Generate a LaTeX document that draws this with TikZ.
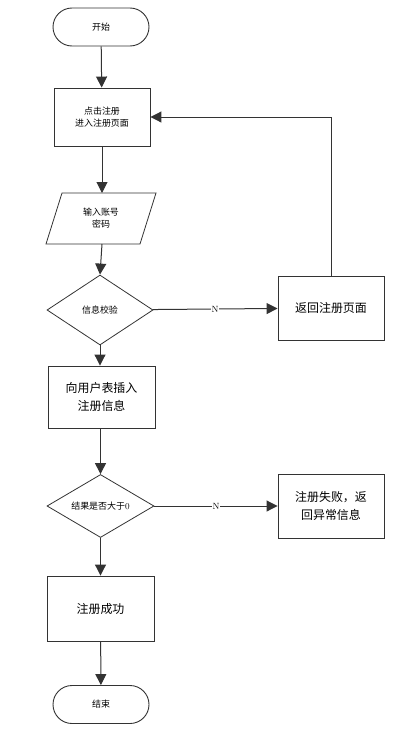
\documentclass[tikz,border=0pt]{standalone}
\usepackage{fontspec}
\newfontfamily\cjk{Noto Sans CJK SC}
\usetikzlibrary{shapes.geometric,arrows.meta}
\definecolor{edge}{HTML}{333333}
\begin{document}
\begin{tikzpicture}[x=1bp,y=-1bp,
  small/.style={font=\cjk\fontsize{9}{12}\selectfont},
  big/.style={font=\cjk\fontsize{12}{18}\selectfont},
  term/.style={draw=edge,line width=0.9bp,rounded corners=19bp,minimum width=96bp,minimum height=38bp,small},
  proc/.style={draw=edge,line width=0.9bp,minimum width=106bp,minimum height=64bp,align=center,inner sep=0pt},
  dec/.style={draw=edge,line width=0.8bp,diamond,aspect=1.5,inner sep=0pt,small},
  arr/.style={draw=edge,line width=1bp,-{Triangle[length=11bp,width=11bp]}},
  nlab/.style={fill=white,inner sep=0.5pt,font=\fontsize{9}{10}\selectfont}
]
\useasboundingbox (0,0) rectangle (417,742);
\node[term] (start) at (101,27) {开始};
\node[proc,small,minimum width=96bp,minimum height=58bp] (b1) at (102,117) {点击注册\\进入注册页面};
\coordinate (ptop) at (109,193);
\coordinate (pbot) at (101,244);
\draw[edge,line width=0.8bp] (46,244) -- (62,193) -- (156,193) -- (140,244) -- cycle;
\node[small,align=center] (para) at (101,218.5) {输入账号\\密码};
\node[dec,minimum width=106bp,minimum height=70bp] (d1) at (100,310) {信息校验};
\node[proc,big] (ret) at (331,308) {返回注册页面};
\node[proc,big,minimum width=107bp,minimum height=62bp] (ins) at (101.5,397) {向用户表插入\\注册信息};
\node[dec,minimum width=107bp,minimum height=63bp] (d2) at (100.5,506) {结果是否大于{\rmfamily 0}};
\node[proc,big] (fail) at (331,506) {注册失败，返\\回异常信息};
\node[proc,big,minimum width=107bp,minimum height=65bp] (ok) at (100.5,608.5) {注册成功};
\node[term] (end) at (101,704.5) {结束};
\coordinate (loop) at (331,117);
\draw[arr] (start) -- (b1);
\draw[arr] (b1.south) -- (b1.south |- ptop);
\draw[arr] (b1.south |- pbot) -- (d1.north);
\draw[arr] (d1) -- node[nlab]{N} (ret);
\draw[arr] (ret.north) -- (loop) -- (b1.east);
\draw[arr] (d1.south) -- (d1.south |- ins.north);
\draw[arr] (ins.south -| d2.north) -- (d2.north);
\draw[arr] (d2) -- node[nlab]{N} (fail);
\draw[arr] (d2.south) -- (ok.north -| d2.south);
\draw[arr] (ok) -- (end);
\end{tikzpicture}
\end{document}
